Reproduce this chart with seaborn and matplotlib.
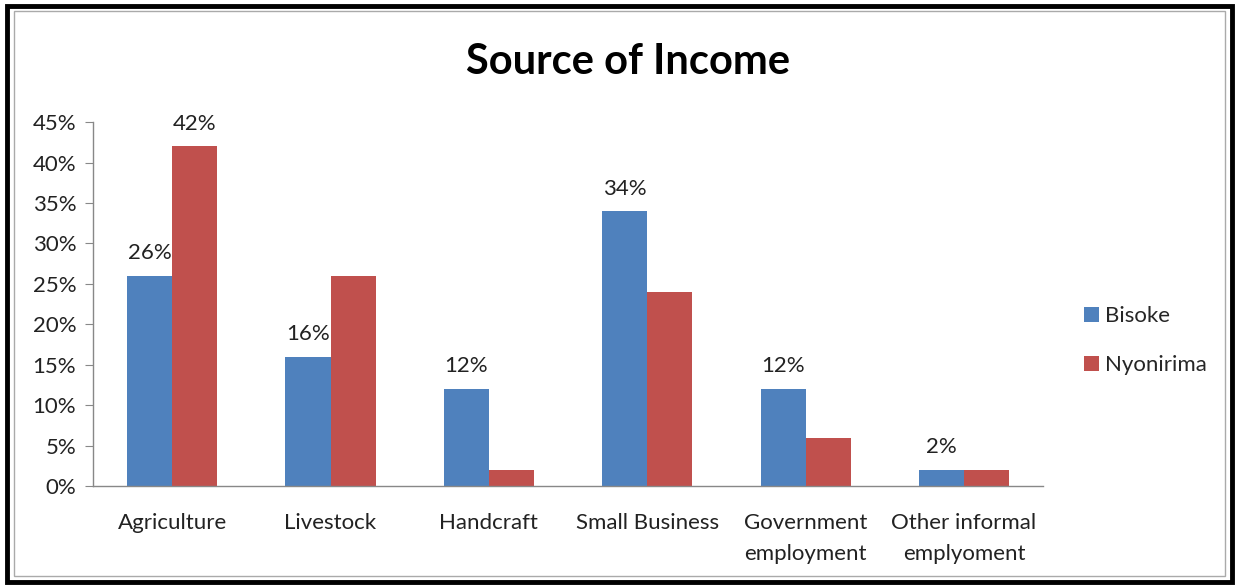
import pandas as pd
import seaborn as sns
import matplotlib.pyplot as plt
from matplotlib.patches import Rectangle
from matplotlib.ticker import PercentFormatter

# data
categories = ["Agriculture", "Livestock", "Handcraft", "Small Business",
              "Government\nemployment", "Other informal\nemplyoment"]
bisoke = [0.26, 0.16, 0.12, 0.34, 0.12, 0.02]
nyonirima = [0.42, 0.26, 0.02, 0.24, 0.06, 0.02]
bisoke_labels = ["26%", "16%", "12%", "34%", "12%", "2%"]
nyonirima_labels = ["42%", "", "", "", "", ""]

df = pd.DataFrame({
    "category": categories * 2,
    "share": bisoke + nyonirima,
    "site": ["Bisoke"] * len(categories) + ["Nyonirima"] * len(categories),
})

sns.set_style("white")
plt.rcParams["font.family"] = ["Lato", "DejaVu Sans"]

fig = plt.figure(figsize=(12.39, 5.87), dpi=100)
ax = fig.add_axes([0.075, 0.172, 0.767, 0.62])

sns.barplot(data=df, x="category", y="share", hue="site",
            palette=["#4F81BD", "#C0504D"], width=0.57, saturation=1,
            edgecolor="none", ax=ax)

ax.bar_label(ax.containers[0], labels=bisoke_labels, padding=9, fontsize=16, color="#222222")
ax.bar_label(ax.containers[1], labels=nyonirima_labels, padding=9, fontsize=16, color="#222222")

ax.set_ylim(0, 0.45)
ax.set_yticks([i * 0.05 for i in range(10)])
ax.yaxis.set_major_formatter(PercentFormatter(1.0, decimals=0))
ax.set_xlabel("")
ax.set_ylabel("")
ax.tick_params(axis="y", left=True, length=6, color="#888888", labelsize=16, labelcolor="#222222", pad=6)
ax.tick_params(axis="x", bottom=False, labelsize=16, labelcolor="#222222", pad=16)
for lbl in ax.get_xticklabels():
    lbl.set_linespacing(1.65)

for s in ["top", "right"]:
    ax.spines[s].set_visible(False)
for s in ["left", "bottom"]:
    ax.spines[s].set_color("#888888")
    ax.spines[s].set_linewidth(1)

fig.text(0.507, 0.895, "Source of Income", ha="center", va="center",
         fontsize=30, fontweight="bold", color="black")

leg = ax.legend(loc="center left", bbox_to_anchor=(1.022, 0.4), frameon=False,
                fontsize=16, handlelength=0.65, handleheight=0.65, labelspacing=1.3,
                handletextpad=0.3)

# chart frame
fig.patches.append(Rectangle((0.006, 0.008), 0.988, 0.982, transform=fig.transFigure,
                             fill=False, edgecolor="black", linewidth=3.5))
fig.patches.append(Rectangle((0.011, 0.018), 0.978, 0.964, transform=fig.transFigure,
                             fill=False, edgecolor="#AAAAAA", linewidth=1))

fig.savefig("out.png", dpi=100)
